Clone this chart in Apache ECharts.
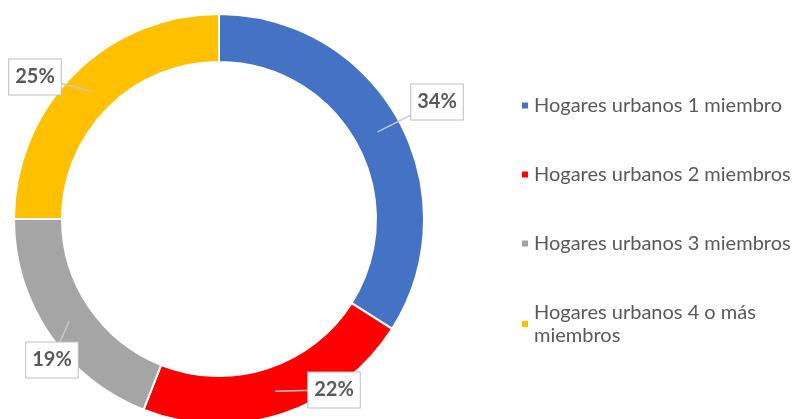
<!DOCTYPE html>
<html>
<head>
<meta charset="utf-8">
<script src="https://cdn.jsdelivr.net/npm/echarts@6/dist/echarts.min.js"></script>
<style>
  html, body { margin: 0; padding: 0; background: #fff; }
  #chart { width: 800px; height: 419px; }
</style>
</head>
<body>
<div id="chart"></div>
<script>
// hogares urbanos por numero de miembros
const categories = ['Hogares urbanos 1 miembro', 'Hogares urbanos 2 miembros', 'Hogares urbanos 3 miembros', 'Hogares urbanos 4 o más miembros'];
const values = [34, 22, 19, 25];
const colors = ['#4472C4', '#FF0000', '#A5A5A5', '#FFC000'];

// donut geometry + where the callout boxes sit (box centres)
const cx = 219, cy = 219, rIn = 157, rOut = 205;
const labelPos = [[437, 102], [334, 390], [52, 360], [35, 77]];

const total = values.reduce((a, b) => a + b, 0);

function tipPoint (i) {
  let before = 0;
  for (let k = 0; k < i; k++) before += values[k];
  const ang = (before + values[i] / 2) / total * Math.PI * 2;
  const r = (rIn + rOut) / 2;
  return [cx + r * Math.sin(ang), cy - r * Math.cos(ang)];
}

const pieData = categories.map((name, i) => ({ name: name, value: values[i] }));

let chart = echarts.init(document.getElementById('chart'));
let option = {
  animation: false,
  color: colors,
  legend: {
    orient: 'vertical',
    left: 515,
    top: 89,
    itemWidth: 8,
    itemHeight: 8,
    itemGap: 46,
    icon: 'rect',
    data: categories,
    formatter: function (name) {
      return name === categories[3] ? 'Hogares urbanos 4 o más\nmiembros' : name;
    },
    textStyle: {
      fontFamily: 'Lato',
      fontSize: 20,
      lineHeight: 23,
      color: '#595959'
    }
  },
  series: [
    {
      // the ring itself
      type: 'pie',
      center: [cx, cy],
      radius: [rIn, rOut],
      startAngle: 90,
      clockwise: true,
      label: { show: false },
      labelLine: { show: false },
      itemStyle: {
        borderColor: '#fff',
        borderWidth: 2
      },
      data: pieData
    },
    {
      // invisible copy on top, only carries the callouts
      type: 'pie',
      z: 5,
      center: [cx, cy],
      radius: [rIn, rOut],
      startAngle: 90,
      clockwise: true,
      silent: true,
      avoidLabelOverlap: false,
      legendHoverLink: false,
      itemStyle: { color: 'rgba(0,0,0,0)' },
      label: {
        show: true,
        position: 'outside',
        formatter: '{c}%',
        fontFamily: 'Lato',
        fontSize: 20,
        fontWeight: 'bold',
        color: '#595959',
        backgroundColor: '#fff',
        borderColor: '#bfbfbf',
        borderWidth: 1,
        padding: [8, 6, 7, 6]
      },
      labelLine: {
        show: true,
        lineStyle: {
          color: '#c8c8c8',
          width: 1.5
        }
      },
      labelLayout: function (params) {
        const i = params.dataIndex;
        const tip = tipPoint(i);
        const box = labelPos[i];
        const mid = [(tip[0] + box[0]) / 2, (tip[1] + box[1]) / 2];
        return {
          x: box[0],
          y: box[1],
          align: 'center',
          verticalAlign: 'middle',
          labelLinePoints: [tip, mid, box]
        };
      },
      data: pieData
    }
  ]
};
chart.setOption(option);
</script>
</body>
</html>
